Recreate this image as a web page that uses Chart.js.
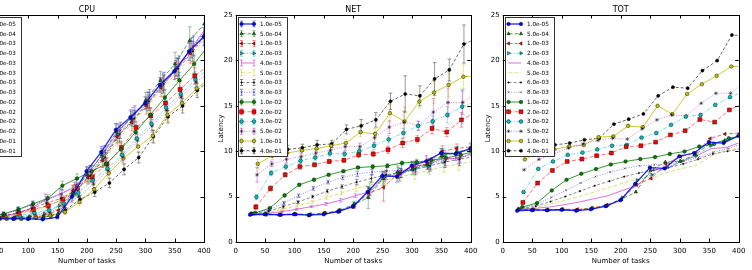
<!DOCTYPE html>
<html><head><meta charset="utf-8">
<script src="https://cdn.jsdelivr.net/npm/chart.js@4.4.1/dist/chart.umd.min.js"></script>
<style>
html,body{margin:0;padding:0;background:#fff;}
#wrap{position:relative;width:752px;height:270px;overflow:hidden;background:#fff;}
canvas{position:absolute;top:0;}
</style></head><body>
<div id="wrap">
<canvas id="cpu" width="380" height="270" style="left:-130px"></canvas>
<canvas id="net" width="300" height="270" style="left:190px"></canvas>
<canvas id="tot" width="292" height="270" style="left:460px"></canvas>
</div>
<script>
// ---------------- DATA ----------------
const seriesLabels = ['1.0e-05','5.0e-04','1.0e-03','2.0e-03','4.0e-03','5.0e-03','6.0e-03','8.0e-03','1.0e-02','2.0e-02','3.0e-02','5.0e-02','1.0e-01','4.0e-01'];
const tasks = [25,50,75,100,125,150,175,200,225,250,275,300,325,350,375,400];
const taskShift = [-0.5,0.6,1.7,2.8,3.8,4.9,6.0,7.1,8.2,9.2,10.3,11.4,12.5,13.5];
const xTicks = [0,50,100,150,200,250,300,350,400];
const yTicks = [0,5,10,15,20,25];

const cpuMean = [
 [2.6,2.55,2.55,2.55,2.5,2.75,5.0,7.8,9.9,12.35,13.75,15.3,17.3,18.8,21.0,22.6],
 [2.7,2.6,2.6,2.6,2.7,3.1,5.4,7.4,9.6,12.1,13.6,15.6,17.8,19.6,22.2,24.0],
 [2.7,2.6,2.65,2.7,2.9,3.5,5.7,7.1,9.0,11.6,13.2,15.0,17.0,19.0,20.8,22.9],
 [2.7,2.65,2.7,2.8,3.1,4.0,5.3,7.3,9.3,11.8,13.5,15.3,17.2,19.2,21.2,23.2],
 [2.8,2.85,3.1,3.7,4.6,5.3,6.0,7.7,9.8,12.2,13.9,15.6,17.6,19.3,21.4,23.6],
 [2.7,2.75,3.0,3.4,3.9,4.6,5.6,7.0,9.0,11.4,13.3,15.1,17.0,18.7,20.6,22.7],
 [2.8,2.8,3.2,3.7,4.3,4.8,5.7,7.3,9.3,11.9,13.6,15.5,17.4,19.1,21.0,23.0],
 [2.9,3.0,3.5,4.1,4.6,5.3,6.3,7.7,9.8,12.3,14.1,15.8,17.7,19.4,21.6,23.8],
 [2.9,3.1,3.6,4.2,4.8,6.2,7.0,7.8,8.6,10.2,12.1,14.0,15.9,17.8,19.6,21.7],
 [2.8,2.9,3.2,3.6,4.0,4.7,5.9,7.2,8.6,10.4,12.6,13.9,15.3,16.8,18.3,19.5],
 [2.7,2.8,2.9,3.2,3.5,4.2,5.4,6.8,8.1,9.6,11.4,13.0,14.8,16.3,17.9,19.2],
 [2.7,2.7,2.8,3.0,3.3,3.9,5.0,6.4,7.9,9.4,11.2,12.8,14.5,16.0,17.6,18.8],
 [2.6,2.6,2.6,2.7,2.9,3.3,4.4,5.8,7.6,9.2,10.5,11.7,14.0,15.3,16.9,18.2],
 [2.6,2.6,2.6,2.7,2.9,3.5,4.7,5.5,6.5,8.0,9.3,11.6,13.8,15.0,16.7,18.0]
];
const cpuErr = [
 [0.2,0.15,0.15,0.15,0.15,0.2,0.6,0.5,0.6,0.7,0.8,0.7,0.8,0.9,1.0,1.0],
 [0.2,0.2,0.2,0.2,0.3,0.4,0.8,0.8,0.7,0.9,0.8,0.9,1.0,1.3,1.5,1.2],
 [0.2,0.2,0.2,0.2,0.3,0.4,0.6,0.7,0.8,0.8,0.9,0.9,1.0,1.0,1.1,1.2],
 [0.2,0.2,0.2,0.2,0.3,0.4,0.5,0.6,0.7,0.8,0.8,0.9,0.9,1.0,1.0,1.1],
 [0.2,0.2,0.3,0.4,0.7,0.6,0.6,0.7,0.8,0.8,0.9,0.9,1.0,1.0,1.1,1.1],
 [0.2,0.2,0.2,0.3,0.4,0.5,0.6,0.6,0.7,0.8,0.8,0.9,0.9,1.0,1.0,1.1],
 [0.2,0.2,0.3,0.3,0.4,0.5,0.6,0.7,0.8,0.9,0.9,1.0,1.0,1.1,1.1,1.2],
 [0.2,0.3,0.3,0.4,0.4,0.5,0.6,0.7,0.8,0.9,0.9,1.0,1.0,1.1,1.1,1.2],
 [0.2,0.2,0.3,0.3,0.4,0.5,0.5,0.6,0.7,0.7,0.8,0.8,0.9,0.9,1.0,1.0],
 [0.2,0.2,0.3,0.3,0.3,0.4,0.5,0.6,0.6,0.7,0.7,0.8,0.8,0.9,0.9,1.0],
 [0.2,0.2,0.2,0.3,0.3,0.4,0.5,0.5,0.6,0.6,0.7,0.7,0.8,0.8,0.9,0.9],
 [0.2,0.2,0.2,0.3,0.3,0.4,0.4,0.5,0.6,0.6,0.7,0.7,0.8,0.8,0.9,0.9],
 [0.2,0.2,0.2,0.2,0.3,0.3,0.4,0.5,0.5,0.6,0.6,0.7,0.7,0.8,0.8,0.9],
 [0.2,0.2,0.2,0.2,0.3,0.3,0.4,0.5,0.5,0.6,0.6,0.7,0.7,0.8,0.8,0.9]
];
const netMean = [
 [3.0,3.05,3.0,3.05,2.95,3.05,3.35,3.9,5.5,7.3,7.2,8.4,8.9,9.8,9.7,10.3],
 [3.1,3.05,3.0,3.1,3.0,3.15,3.4,4.1,4.9,7.0,7.7,8.0,8.5,9.5,9.9,10.2],
 [3.1,3.0,3.0,3.05,3.05,3.2,3.45,4.0,5.4,6.0,7.6,8.3,8.6,10.0,10.3,10.5],
 [3.15,3.1,3.0,3.05,3.0,3.15,3.5,4.2,5.8,7.1,7.5,8.0,8.3,9.5,9.9,10.1],
 [3.05,3.15,3.35,3.6,3.9,4.2,4.6,5.1,5.55,7.2,7.3,8.3,8.6,9.2,9.2,9.8],
 [3.1,3.25,3.6,4.0,4.4,4.9,5.4,5.9,6.3,6.8,7.2,7.5,7.9,8.3,8.6,8.9],
 [3.1,3.4,3.9,4.4,5.0,5.6,6.1,6.6,7.0,7.4,7.6,8.0,8.4,8.8,9.1,9.4],
 [3.15,3.6,4.3,5.1,5.9,6.6,7.1,7.5,7.7,7.8,7.9,8.2,8.6,9.0,9.3,9.6],
 [3.2,3.74,5.13,6.3,6.86,7.4,7.8,8.2,8.3,8.4,8.7,8.8,9.0,9.25,9.6,10.0],
 [3.85,5.9,7.4,8.3,8.5,8.87,9.0,9.6,9.7,10.16,10.9,11.3,12.5,12.1,13.45,14.3],
 [4.95,7.6,8.3,8.95,9.3,9.75,9.7,10.0,10.6,11.3,12.0,12.8,13.3,14.0,14.9,15.5],
 [7.4,8.6,9.1,9.4,9.8,10.1,10.5,10.5,11.5,12.65,13.2,12.8,14.3,15.36,15.36,16.5],
 [8.6,9.5,9.8,10.08,10.3,10.6,10.9,12.1,11.9,14.2,13.27,15.47,16.46,17.3,18.2,18.3],
 [9.8,10.0,10.2,10.37,10.7,10.8,12.4,12.8,13.45,15.5,16.3,16.1,17.96,18.95,21.8,22.5]
];
const netErr = [
 [0.1,0.1,0.1,0.1,0.1,0.1,0.15,0.2,0.6,0.4,0.6,0.5,0.6,0.5,0.7,0.6],
 [0.15,0.1,0.1,0.1,0.1,0.15,0.2,0.3,1.2,0.8,0.7,0.6,0.5,0.8,0.6,0.6],
 [0.15,0.1,0.1,0.1,0.1,0.15,0.2,0.3,0.6,1.5,0.6,0.5,0.6,0.6,0.5,0.6],
 [0.15,0.1,0.1,0.1,0.1,0.15,0.2,0.3,0.7,0.7,0.6,0.5,0.7,0.8,0.6,0.6],
 [0.1,0.1,0.1,0.1,0.1,0.15,0.2,0.2,0.4,0.5,0.6,0.6,0.5,0.6,0.6,0.6],
 [0.1,0.1,0.1,0.15,0.15,0.2,0.2,0.3,0.4,0.5,0.5,0.6,0.5,0.6,0.7,0.6],
 [0.1,0.1,0.15,0.15,0.15,0.2,0.2,0.3,0.4,0.5,0.5,0.6,0.6,0.6,0.7,0.7],
 [0.1,0.15,0.15,0.2,0.2,0.2,0.2,0.3,0.3,0.4,0.8,0.5,0.6,0.6,0.6,0.6],
 [0.1,0.1,0.15,0.15,0.15,0.15,0.15,0.15,0.2,0.2,0.2,0.3,0.3,0.4,0.4,0.4],
 [0.3,0.3,0.2,0.3,0.2,0.2,0.2,0.3,0.3,0.4,0.5,0.4,0.6,0.5,0.8,0.8],
 [0.3,0.3,0.3,0.3,0.3,0.3,0.3,0.3,0.4,0.4,0.5,0.5,0.6,0.9,1.9,1.0],
 [0.8,0.3,0.4,0.4,0.4,0.4,0.4,0.4,0.6,0.7,1.2,0.5,1.5,1.6,1.3,1.0],
 [0.5,0.4,0.4,0.4,0.3,0.4,0.4,0.5,0.6,1.0,1.6,0.7,1.2,1.3,1.3,1.0],
 [0.4,0.4,0.4,0.4,0.5,0.4,0.5,0.7,0.8,0.9,2.0,1.1,1.8,1.2,2.1,1.5]
];
const totMean = [
 [3.44,3.5,3.5,3.55,3.45,3.6,3.95,4.6,6.4,8.2,8.1,9.45,9.8,11.0,10.9,11.7],
 [3.6,3.55,3.5,3.6,3.5,3.7,3.95,4.7,5.5,7.9,8.8,8.9,9.6,10.8,11.1,11.7],
 [3.6,3.5,3.55,3.6,3.6,3.75,4.1,4.7,6.3,7.0,8.6,9.4,9.8,11.4,11.9,12.0],
 [3.65,3.6,3.5,3.55,3.5,3.7,4.0,4.9,6.8,7.4,8.2,8.9,9.5,10.6,11.2,11.6],
 [3.6,3.7,3.85,4.1,4.4,4.75,5.1,5.7,6.2,7.9,8.1,8.9,9.5,10.3,10.4,11.0],
 [3.6,3.8,4.15,4.6,5.0,5.5,6.0,6.5,7.0,7.1,7.7,8.1,8.5,9.5,10.2,10.3],
 [3.65,3.95,4.45,5.0,5.6,6.2,6.7,7.2,7.6,7.9,8.2,8.6,9.1,9.7,10.0,10.3],
 [3.7,4.15,4.9,5.7,6.5,7.2,7.7,8.1,8.4,8.5,8.6,8.9,9.3,9.9,10.3,10.8],
 [3.85,4.29,5.68,6.85,7.51,8.03,8.54,8.87,9.13,9.35,9.7,9.97,10.52,10.8,11.43,11.7],
 [4.36,6.49,7.88,8.87,9.13,9.5,9.8,10.5,10.6,11.0,11.8,12.25,13.5,13.2,14.55,15.3],
 [5.5,8.06,8.87,9.6,9.85,10.2,10.6,10.7,11.5,12.0,12.9,13.8,14.0,15.1,15.95,16.6],
 [7.95,9.1,9.7,10.34,10.82,11.18,11.43,11.33,12.46,13.45,14.0,13.89,15.28,16.38,16.38,17.7],
 [9.1,9.9,10.2,10.52,10.67,11.55,11.63,12.79,12.65,15.0,14.08,16.3,17.38,18.3,19.32,19.35],
 [9.9,10.4,10.7,10.89,11.25,11.43,12.98,13.53,14.11,16.1,17.05,16.94,18.88,19.98,22.8,22.7]
];

// ---------------- STYLE ----------------
const FONT = 'DejaVu Sans';
const STY = [
 {c:[0,0,255],   dash:[],            m:'circle',   r:1.8, rot:0,   a:0.85, w:1.3},
 {c:[0,128,0],   dash:[4,2],         m:'triangle', r:2.0, rot:0,   a:0.7,  w:1},
 {c:[255,0,0],   dash:[4,2],         m:'triangle', r:2.0, rot:-90, a:0.6,  w:1},
 {c:[0,191,191], dash:[4,1.5,1,1.5], m:'triangle', r:2.0, rot:90,  a:0.6,  w:1},
 {c:[191,0,191], dash:[],            m:false,      r:0,   rot:0,   a:0.55, w:1},
 {c:[191,191,0], dash:[4,2],         m:false,      r:0,   rot:0,   a:0.5,  w:1},
 {c:[0,0,0],     dash:[3,2],         m:'circle',   r:0.8, rot:0,   a:0.45, w:1},
 {c:[0,0,255],   dash:[1,1.5],       m:'crossRot', r:1.4, rot:0,   a:0.45, w:1},
 {c:[0,128,0],   dash:[],            m:'circle',   r:1.8, rot:0,   a:0.8,  w:1},
 {c:[255,0,0],   dash:[4,2],         m:'rect',     r:2.8, rot:0,   a:0.55, w:1},
 {c:[0,191,191], dash:[4,1.5,1,1.5], m:'circle',   r:1.9, rot:0,   a:0.5,  w:1},
 {c:[191,0,191], dash:[1,1.5],       m:'star',     r:2.0, rot:0,   a:0.5,  w:1},
 {c:[191,191,0], dash:[],            m:'circle',   r:1.8, rot:0,   a:0.8,  w:1},
 {c:[0,0,0],     dash:[3,2],         m:'circle',   r:1.6, rot:0,   a:0.6,  w:1}
];
const rgba = (c,a) => `rgba(${c[0]},${c[1]},${c[2]},${a})`;

function drawMarker(ctx, s, x, y) {
  if (!s.m || s.r <= 0) return;
  ctx.save();
  ctx.fillStyle = rgba(s.c,1);
  ctx.strokeStyle = 'rgba(0,0,0,0.85)';
  ctx.lineWidth = 0.5;
  ctx.setLineDash([]);
  if (Chart.helpers && Chart.helpers.drawPoint) {
    Chart.helpers.drawPoint(ctx, {pointStyle:s.m, radius:s.r, rotation:s.rot, borderWidth:0.5}, x, y);
  } else {
    ctx.beginPath(); ctx.arc(x,y,s.r,0,Math.PI*2); ctx.fill(); ctx.stroke();
  }
  ctx.restore();
}

function makeChart(id, title, means, errs, caLeft, caRight) {
  const cv = document.getElementById(id);
  const W = cv.width;
  const datasets = means.map((ys, i) => {
    const s = STY[i];
    return {
      label: seriesLabels[i],
      data: ys.map((y, k) => ({x: tasks[k] + taskShift[i], y})),
      borderColor: rgba(s.c, s.a),
      borderWidth: s.w,
      borderDash: s.dash,
      pointStyle: s.m || 'circle',
      pointRadius: s.m ? s.r : 0,
      pointRotation: s.rot,
      pointBackgroundColor: rgba(s.c, 1),
      pointBorderColor: 'rgba(0,0,0,0.85)',
      pointBorderWidth: 0.5,
      tension: 0,
      fill: false
    };
  });
  const deco = {
    id: 'deco' + id,
    beforeDatasetsDraw(chart) {
      if (!errs) return;
      const {ctx, chartArea: ca, scales: {x: xs, y: ysc}} = chart;
      ctx.save();
      ctx.beginPath(); ctx.rect(ca.left, ca.top, ca.right - ca.left, ca.bottom - ca.top); ctx.clip();
      errs.forEach((er, i) => {
        const s = STY[i];
        ctx.strokeStyle = rgba(s.c, 0.4);
        ctx.lineWidth = 1;
        ctx.setLineDash([]);
        er.forEach((e, k) => {
          const px = xs.getPixelForValue(tasks[k] + taskShift[i]);
          const y1 = ysc.getPixelForValue(means[i][k] - e);
          const y2 = ysc.getPixelForValue(means[i][k] + e);
          ctx.beginPath();
          ctx.moveTo(px, y1); ctx.lineTo(px, y2);
          ctx.moveTo(px - 1.8, y1); ctx.lineTo(px + 1.8, y1);
          ctx.moveTo(px - 1.8, y2); ctx.lineTo(px + 1.8, y2);
          ctx.stroke();
        });
      });
      ctx.restore();
    },
    afterDatasetsDraw(chart) {
      const {ctx, chartArea: ca, scales: {x: xs, y: ysc}} = chart;
      ctx.save();
      ctx.strokeStyle = '#000'; ctx.lineWidth = 1; ctx.setLineDash([]);
      ctx.strokeRect(Math.round(ca.left) + 0.5, Math.round(ca.top) + 0.5,
                     Math.round(ca.right) - Math.round(ca.left), Math.round(ca.bottom) - Math.round(ca.top));
      ctx.beginPath();
      xTicks.forEach(v => {
        const p = Math.round(xs.getPixelForValue(v)) + 0.5;
        ctx.moveTo(p, ca.bottom); ctx.lineTo(p, ca.bottom - 3.5);
        ctx.moveTo(p, ca.top); ctx.lineTo(p, ca.top + 3.5);
      });
      yTicks.forEach(v => {
        const p = Math.round(ysc.getPixelForValue(v)) + 0.5;
        ctx.moveTo(ca.left, p); ctx.lineTo(ca.left + 3.5, p);
        ctx.moveTo(ca.right, p); ctx.lineTo(ca.right - 3.5, p);
      });
      ctx.stroke();
      ctx.fillStyle = '#000';
      ctx.font = `8px ${FONT}`;
      ctx.textAlign = 'center'; ctx.textBaseline = 'middle';
      ctx.fillText(title, (ca.left + ca.right) / 2, 10);
      const bx = Math.round(ca.left) + 2.5, by = Math.round(ca.top) + 2.5;
      const bw = 49, bh = 139;
      ctx.fillStyle = '#fff';
      ctx.fillRect(bx, by, bw, bh);
      ctx.strokeStyle = '#333'; ctx.lineWidth = 1;
      ctx.strokeRect(bx, by, bw, bh);
      ctx.font = `5.7px ${FONT}`;
      ctx.textAlign = 'left'; ctx.textBaseline = 'middle';
      seriesLabels.forEach((lab, i) => {
        const s = STY[i];
        const ry = by + 6.5 + i * 9.75;
        const x1 = bx + 3, x2 = bx + 15.5;
        ctx.strokeStyle = rgba(s.c, s.a);
        ctx.lineWidth = s.w;
        ctx.setLineDash(s.dash);
        ctx.beginPath(); ctx.moveTo(x1, ry); ctx.lineTo(x2, ry); ctx.stroke();
        ctx.setLineDash([]);
        if (errs) {
          ctx.strokeStyle = rgba(s.c, 0.45); ctx.lineWidth = 1;
          ctx.beginPath();
          [x1, x2].forEach(xx => {
            ctx.moveTo(xx, ry - 3); ctx.lineTo(xx, ry + 3);
            ctx.moveTo(xx - 1.5, ry - 3); ctx.lineTo(xx + 1.5, ry - 3);
            ctx.moveTo(xx - 1.5, ry + 3); ctx.lineTo(xx + 1.5, ry + 3);
          });
          ctx.stroke();
        }
        drawMarker(ctx, s, x1, ry);
        drawMarker(ctx, s, x2, ry);
        ctx.fillStyle = '#000';
        ctx.fillText(lab, bx + 21.5, ry + 0.3);
      });
      ctx.restore();
    }
  };
  return new Chart(cv, {
    type: 'line',
    data: {datasets},
    options: {
      responsive: false, animation: false, devicePixelRatio: 1, events: [],
      layout: {padding: {left: caLeft - 24, right: W - caRight, top: 15, bottom: 0}},
      plugins: {legend: {display: false}, tooltip: {enabled: false}, title: {display: false}},
      scales: {
        x: {
          type: 'linear', min: 0, max: 400,
          ticks: {stepSize: 50, font: {family: FONT, size: 7}, color: '#000', padding: 5, maxRotation: 0, autoSkip: false},
          grid: {display: false, drawTicks: false}, border: {display: false},
          title: {display: true, text: 'Number of tasks', color: '#000', font: {family: FONT, size: 7}, padding: {top: 0, bottom: 5}},
          afterFit(s) { s.height = 28; }
        },
        y: {
          type: 'linear', min: 0, max: 25,
          ticks: {stepSize: 5, font: {family: FONT, size: 7}, color: '#000', padding: 3},
          grid: {display: false, drawTicks: false}, border: {display: false},
          title: {display: true, text: 'Latency', color: '#000', font: {family: FONT, size: 7}, padding: {top: 5, bottom: 0}},
          afterFit(s) { s.width = 24; }
        }
      }
    },
    plugins: [deco]
  });
}

makeChart('cpu', 'CPU', cpuMean, cpuErr, 99.7, 334);
makeChart('net', 'NET', netMean, netErr, 45.7, 280.7);
makeChart('tot', 'TOT', totMean, null, 42.7, 278.7);
</script>
</body></html>
